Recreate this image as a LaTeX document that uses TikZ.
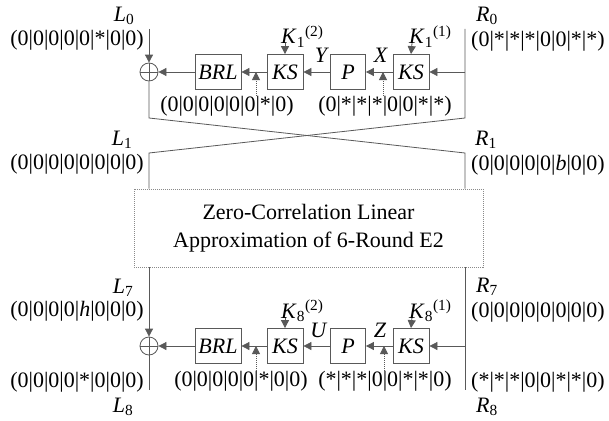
\documentclass[tikz,border=0pt]{standalone}
\usepackage{fontspec}
\setmainfont{Liberation Serif}
\usetikzlibrary{arrows.meta}
\definecolor{ln}{HTML}{595959}
\definecolor{bx}{HTML}{8A8A8A}
\newcommand{\Lsub}[2]{\textit{#1}\textsubscript{#2}}
\newcommand{\Ksup}[2]{\textit{K}\textsubscript{#1}\textsuperscript{(#2)}}
\begin{document}
\begin{tikzpicture}[x=1pt,y=-1pt,
  every node/.style={font=\fontsize{22}{26}\selectfont, inner sep=0pt},
  wire/.style={draw=ln, line width=0.8pt},
  arr/.style={wire, -{Triangle[length=8pt,width=8pt]}},
  dotarr/.style={draw=ln, line width=0.8pt, dash pattern=on 1pt off 1pt, -{Triangle[length=8pt,width=8pt]}},
  fbox/.style={draw=ln, line width=0.8pt, minimum height=35pt, font=\fontsize{22}{26}\selectfont\itshape},
  xor/.style={draw=ln, line width=0.8pt, circle, minimum size=18pt},
  bigbox/.style={draw=bx, line width=0.8pt, dash pattern=on 1pt off 1pt, minimum width=349pt, minimum height=78pt, align=center, font=\fontsize{22}{28}\selectfont}
]
\useasboundingbox (0,0) rectangle (609,420);

% ---------- top round ----------
\coordinate (L0top) at (149,29);
\coordinate (R0top) at (465,29);
\node[xor] (xorT) at (149,72) {};
\draw[wire] (xorT.north) -- (xorT.south) (xorT.west) -- (xorT.east);
\node[fbox, minimum width=46pt] (brlT) at (218,72) {BRL};
\node[fbox, minimum width=36pt] (ksT1) at (285,72) {KS};
\node[fbox, minimum width=35pt] (pT) at (348,72) {P};
\node[fbox, minimum width=36pt] (ksT2) at (411,72) {KS};
\coordinate (rT) at (465,72);

\draw[arr] (L0top) -- (xorT.north);
\draw[arr] (rT) -- (ksT2.east);
\draw[arr] (ksT2.west) -- (pT.east);
\draw[arr] (pT.west) -- (ksT1.east);
\draw[arr] (ksT1.west) -- (brlT.east);
\draw[arr] (brlT.west) -- (xorT.east);

\coordinate (kT1) at (285,43);
\coordinate (kT2) at (412,43);
\draw[arr] (kT1) -- (ksT1.north);
\draw[arr] (kT2) -- (ksT2.north);
\node[anchor=base west] (k12) at (281,44) {\Ksup{1}{2}};
\node[anchor=base west] (k11) at (409,44) {\Ksup{1}{1}};
\node (Y) at (322,55) {\textit{Y}};
\node (X) at (381,55) {\textit{X}};

\node (sT1) at (227,106) {(0|0|0|0|0|0|*|0)};
\node (sT2) at (385,106) {(0|*|*|*|0|0|*|*)};
\coordinate (dT1) at (256,72);
\coordinate (dT2) at (383,72);
\draw[dotarr] (dT1 |- sT1.north) -- (dT1);
\draw[dotarr] (dT2 |- sT2.north) -- (dT2);

% ---------- crossing ----------
\coordinate (cL1) at (149,118);
\coordinate (cR1) at (465,118);
\coordinate (cL2) at (149,153);
\coordinate (cR2) at (465,153);

\node[bigbox] (zc) at (308.5,228) {Zero-Correlation Linear\\Approximation of 6-Round E2};

\draw[wire] (xorT.south) -- (cL1) -- (cR2) -- (cR2 |- zc.north);
\draw[wire] (R0top) -- (cR1) -- (cL2) -- (cL2 |- zc.north);

% ---------- side labels (top) ----------
\node (L0) at (124,16) {\Lsub{L}{0}};
\node[anchor=east] (sL0) at (144,40) {(0|0|0|0|0|*|0|0)};
\node (L1) at (122,140) {\Lsub{L}{1}};
\node[anchor=east] (sL1) at (144,164) {(0|0|0|0|0|0|0|0)};
\node (R0) at (487,16) {\Lsub{R}{0}};
\node[anchor=west] (sR0) at (471,41) {(0|*|*|*|0|0|*|*)};
\node (R1) at (486,140) {\Lsub{R}{1}};
\node[anchor=west] (sR1) at (471,165) {(0|0|0|0|0|\textit{b}|0|0)};

% ---------- bottom round ----------
\node[xor] (xorB) at (149,346) {};
\draw[wire] (xorB.north) -- (xorB.south) (xorB.west) -- (xorB.east);
\node[fbox, minimum width=46pt] (brlB) at (218,346) {BRL};
\node[fbox, minimum width=36pt] (ksB1) at (285,346) {KS};
\node[fbox, minimum width=35pt] (pB) at (348,346) {P};
\node[fbox, minimum width=36pt] (ksB2) at (411,346) {KS};
\coordinate (rB) at (465,346);
\coordinate (L8bot) at (149,390);
\coordinate (R8bot) at (465,390);

\draw[arr] (xorB.north |- zc.south) -- (xorB.north);
\draw[wire] (xorB.south) -- (L8bot);
\draw[wire] (R8bot |- zc.south) -- (R8bot);
\draw[arr] (rB) -- (ksB2.east);
\draw[arr] (ksB2.west) -- (pB.east);
\draw[arr] (pB.west) -- (ksB1.east);
\draw[arr] (ksB1.west) -- (brlB.east);
\draw[arr] (brlB.west) -- (xorB.east);

\coordinate (kB1) at (285,317);
\coordinate (kB2) at (412,317);
\draw[arr] (kB1) -- (ksB1.north);
\draw[arr] (kB2) -- (ksB2.north);
\node[anchor=base west] (k82) at (281,318) {\Ksup{8}{2}};
\node[anchor=base west] (k81) at (409,318) {\Ksup{8}{1}};
\node (U) at (319,330) {\textit{U}};
\node (Z) at (380,330) {\textit{Z}};

\node (sB1) at (241,381) {(0|0|0|0|0|*|0|0)};
\node (sB2) at (385,381) {(*|*|*|0|0|*|*|0)};
\coordinate (dB1) at (256,346);
\coordinate (dB2) at (384,346);
\draw[dotarr] (dB1 |- sB1.north) -- (dB1);
\draw[dotarr] (dB2 |- sB2.north) -- (dB2);

% ---------- side labels (bottom) ----------
\node (L7) at (123,288) {\Lsub{L}{7}};
\node[anchor=east] (sL7) at (144,311) {(0|0|0|0|\textit{h}|0|0|0)};
\node[anchor=east] (sL8) at (144,382) {(0|0|0|0|*|0|0|0)};
\node (L8) at (123,407) {\Lsub{L}{8}};
\node (R7) at (487,287) {\Lsub{R}{7}};
\node[anchor=west] (sR7) at (471,312) {(0|0|0|0|0|0|0|0)};
\node[anchor=west] (sR8) at (471,382) {(*|*|*|0|0|*|*|0)};
\node (R8) at (487,407) {\Lsub{R}{8}};
\end{tikzpicture}
\end{document}
